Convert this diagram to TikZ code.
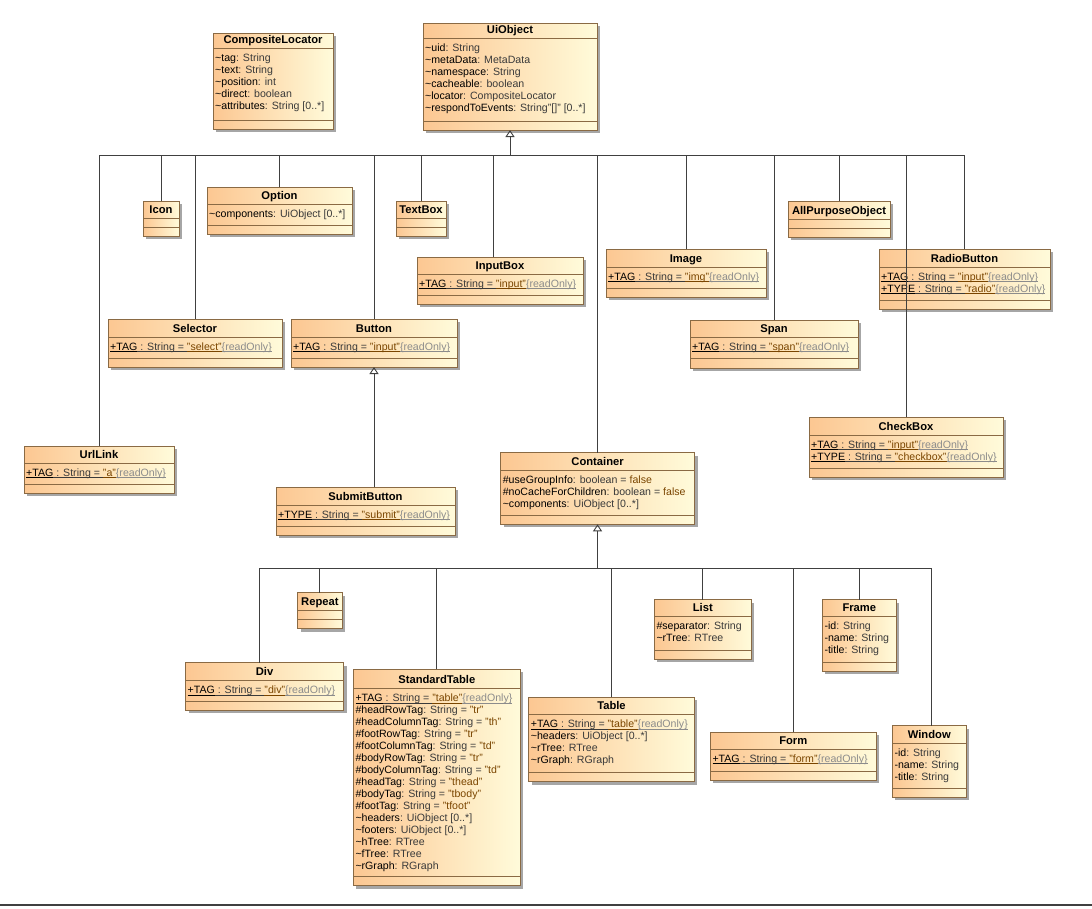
\documentclass[tikz,border=0pt]{standalone}
\usepackage{fontspec}
\setmainfont{Liberation Sans}
\usetikzlibrary{arrows.meta,shadows}
\definecolor{boxL}{HTML}{FCC792}
\definecolor{boxR}{HTML}{FFFBDA}
\definecolor{boxB}{HTML}{8A6A44}
\definecolor{typec}{HTML}{3A3A3A}
\definecolor{valc}{HTML}{7A4500}
\definecolor{roc}{HTML}{8C8C8C}
\definecolor{linec}{HTML}{404040}
\newcommand\tld{\textasciitilde}
\newcommand\uS{\rule{0pt}{9pt}}
\newcommand\uAt[2]{\uS#1\textcolor{typec}{ : #2}}
\newcommand\uAv[3]{\uS#1\textcolor{typec}{ : #2 = }\textcolor{valc}{#3}}
\newcommand\uUl[1]{\underline{\smash{#1}}}
\newcommand\uSt[2]{\uS\uUl{#1}\textcolor{typec}{\uUl{ : String = }}\textcolor{valc}{\uUl{"#2"}}\textcolor{roc}{\uUl{\{readOnly\}}}}
\tikzset{
  classbox/.style={draw=boxB, line width=0.9pt, left color=boxL, right color=boxR,
    inner sep=0pt, outer sep=0pt,
    drop shadow={shadow xshift=3pt, shadow yshift=-3pt, fill=black!35, opacity=1}},
  sepline/.style={draw=boxB, line width=0.9pt},
  titlefont/.style={inner sep=0pt, font=\fontsize{11.2}{12}\selectfont\bfseries},
  attrfont/.style={inner sep=0pt, align=left, font=\fontsize{10.6}{12}\selectfont},
  conn/.style={draw=linec, line width=0.9pt},
  gen/.style={conn, -{Triangle[open, width=9pt, length=7pt, line width=0.9pt]}}
}
% id, x1, y1, x2, ybottom, sep1, sep2, title, attributes
\newcommand\uClass[9]{%
  \node[classbox, anchor=north west, minimum width={(#4-#2)*1pt}, minimum height={(#5-#3)*1pt}] (#1) at (#2,#3) {};
  \draw[sepline] (#2,#6) -- (#4,#6);
  \draw[sepline] (#2,#7) -- (#4,#7);
  \node[titlefont, anchor=base] at ({(#2+#4)/2},#6-5) {#8};
  \node[attrfont, anchor=north west] at (#2+2,#6+3.8) {#9};
}
\begin{document}
\begin{tikzpicture}[x=1pt, y=-1pt]
\useasboundingbox (0,0) rectangle (1092,908);
\fill[white] (0,0) rectangle (1092,908);

\uClass{compositelocator}{213}{33}{333}{129}{48}{120}{CompositeLocator}{%
  \uAt{\tld tag}{String}\\ \uAt{\tld text}{String}\\ \uAt{\tld position}{int}\\
  \uAt{\tld direct}{boolean}\\ \uAt{\tld attributes}{String [0..*]}}
\uClass{uiobject}{423}{23}{597}{130}{38}{121}{UiObject}{%
  \uAt{\tld uid}{String}\\ \uAt{\tld metaData}{MetaData}\\ \uAt{\tld namespace}{String}\\
  \uAt{\tld cacheable}{boolean}\\ \uAt{\tld locator}{CompositeLocator}\\
  \uAt{\tld respondToEvents}{String"[]" [0..*]}}
\uClass{icon}{143}{201}{179}{236}{218}{227}{Icon}{}
\uClass{option}{207}{187}{352}{234}{204}{225}{Option}{\uAt{\tld components}{UiObject [0..*]}}
\uClass{textbox}{396}{201}{446}{236}{218}{227}{TextBox}{}
\uClass{inputbox}{417}{257}{583}{304}{274}{295}{InputBox}{\uSt{+TAG}{input}}
\uClass{selector}{108}{319}{282}{367}{337}{358}{Selector}{\uSt{+TAG}{select}}
\uClass{button}{291}{319}{457}{367}{337}{358}{Button}{\uSt{+TAG}{input}}
\uClass{urllink}{24}{446}{174}{493}{463}{484}{UrlLink}{\uSt{+TAG}{a}}
\uClass{submitbutton}{276}{487}{455}{535}{505}{526}{SubmitButton}{\uSt{+TYPE}{submit}}
\uClass{image}{606}{249}{766}{297}{267}{288}{Image}{\uSt{+TAG}{img}}
\uClass{allpurpose}{788}{201}{890}{237}{219}{228}{AllPurposeObject}{}
\uClass{radiobutton}{879}{249}{1050}{309}{267}{300}{RadioButton}{\uSt{+TAG}{input}\\ \uSt{+TYPE}{radio}}
\uClass{span}{690}{320}{858}{368}{337}{358}{Span}{\uSt{+TAG}{span}}
\uClass{checkbox}{809}{417}{1003}{477}{435}{468}{CheckBox}{\uSt{+TAG}{input}\\ \uSt{+TYPE}{checkbox}}
\uClass{container}{500.6}{452.7}{694.5}{524.3}{470.7}{515.3}{Container}{%
  \uAv{\#useGroupInfo}{boolean}{false}\\ \uAv{\#noCacheForChildren}{boolean}{false}\\
  \uAt{\tld components}{UiObject [0..*]}}
\uClass{repeat}{297.8}{592.7}{342}{628.7}{610.7}{619.7}{Repeat}{}
\uClass{div}{185.5}{662.7}{343.6}{710.3}{680.3}{701.3}{Div}{\uSt{+TAG}{div}}
\uClass{standardtable}{353.3}{669.3}{520.3}{885.7}{688.3}{876}{StandardTable}{%
  \uSt{+TAG}{table}\\
  \uAv{\#headRowTag}{String}{"tr"}\\
  \uAv{\#headColumnTag}{String}{"th"}\\
  \uAv{\#footRowTag}{String}{"tr"}\\
  \uAv{\#footColumnTag}{String}{"td"}\\
  \uAv{\#bodyRowTag}{String}{"tr"}\\
  \uAv{\#bodyColumnTag}{String}{"td"}\\
  \uAv{\#headTag}{String}{"thead"}\\
  \uAv{\#bodyTag}{String}{"tbody"}\\
  \uAv{\#footTag}{String}{"tfoot"}\\
  \uAt{\tld headers}{UiObject [0..*]}\\
  \uAt{\tld footers}{UiObject [0..*]}\\
  \uAt{\tld hTree}{RTree}\\
  \uAt{\tld fTree}{RTree}\\
  \uAt{\tld rGraph}{RGraph}}
\uClass{table}{528.7}{697.3}{694.3}{781.7}{714.3}{772.7}{Table}{%
  \uSt{+TAG}{table}\\ \uAt{\tld headers}{UiObject [0..*]}\\ \uAt{\tld rTree}{RTree}\\ \uAt{\tld rGraph}{RGraph}}
\uClass{list}{654.3}{599.7}{751.3}{659}{616.3}{650.3}{List}{%
  \uAt{\#separator}{String}\\ \uAt{\tld rTree}{RTree}}
\uClass{frame}{822.3}{599.7}{896.3}{671}{616.3}{662.3}{Frame}{%
  \uAt{-id}{String}\\ \uAt{-name}{String}\\ \uAt{-title}{String}}
\uClass{form}{710.3}{732.3}{876.3}{780.3}{749}{771}{Form}{\uSt{+TAG}{form}}
\uClass{window}{892.3}{725.7}{966.3}{797}{743}{788.3}{Window}{%
  \uAt{-id}{String}\\ \uAt{-name}{String}\\ \uAt{-title}{String}}

% generalization tree to UiObject
\coordinate (bus1) at (510,155);
\draw[conn] (urllink.north |- bus1) -- (radiobutton.north |- bus1);
\draw[gen] (bus1) -- (uiobject.south);
\foreach \c in {urllink,icon,selector,option,button,textbox,container,image,span,allpurpose,checkbox,radiobutton}
  \draw[conn] (\c.north) -- (\c.north |- bus1);
\draw[conn] ([xshift=-7pt]inputbox.north) -- ([xshift=-7pt]inputbox.north |- bus1);

% Button <- SubmitButton
\draw[gen] (button.south |- submitbutton.north) -- (button.south);

% generalization tree to Container
\coordinate (bus2) at (597.5,568);
\draw[conn] ([xshift=-5pt]div.north |- bus2) -- ([xshift=2.5pt]window.north |- bus2);
\draw[gen] (bus2) -- (container.south);
\foreach \c in {repeat,standardtable,table,list,form,frame}
  \draw[conn] (\c.north) -- (\c.north |- bus2);
\draw[conn] ([xshift=-5pt]div.north) -- ([xshift=-5pt]div.north |- bus2);
\draw[conn] ([xshift=2.5pt]window.north) -- ([xshift=2.5pt]window.north |- bus2);

% bottom rule
\draw[linec, line width=1.5pt] (0,905) -- (1092,905);
\end{tikzpicture}
\end{document}
